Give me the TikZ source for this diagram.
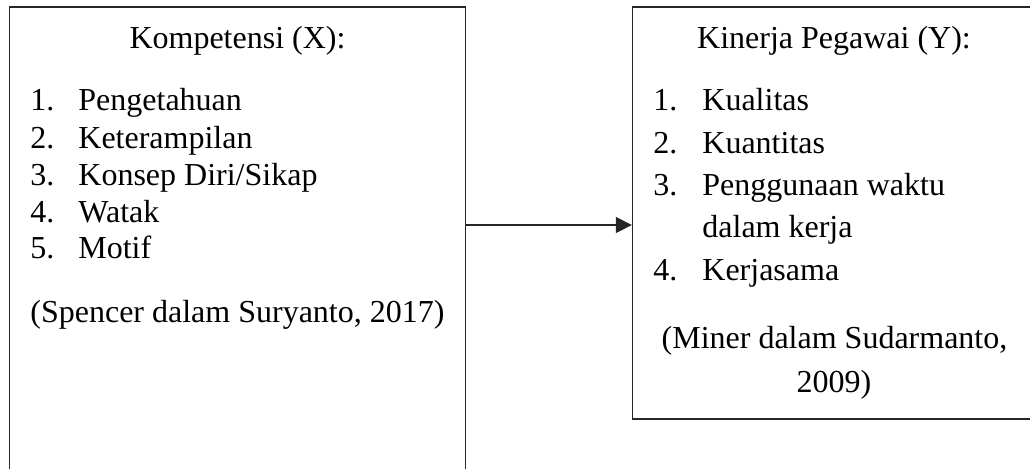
\documentclass[tikz,border=0pt]{standalone}
\usepackage{fontspec}
\setmainfont{Liberation Serif}
\usetikzlibrary{arrows.meta}
\begin{document}
\begin{tikzpicture}[x=0.5pt,y=-0.5pt,
  frame/.style={draw=black!85, line width=0.65pt, inner sep=0pt, fill=none},
  txt/.style={inner sep=0pt, font=\fontsize{16pt}{18pt}\selectfont},
  num/.style={txt, anchor=base west},
  item/.style={txt, anchor=base west},
  title/.style={txt, anchor=base},
  link/.style={draw=black!85, line width=0.65pt, -{Triangle[length=8pt,width=8pt]}}]
\useasboundingbox (0,0) rectangle (1030,468);
\clip (0,0) rectangle (1030,468);
\node[frame, minimum width=228pt, minimum height=246.5pt] (lbox) at (237.5,253.5) {};
\node[frame, minimum width=201.75pt, minimum height=206pt] (rbox) at (834.25,213) {};
% left box text
\node[title] (ltitle) at (237.5,48) {Kompetensi (X):};
\node[num] (ln1) at (30,110) {1.};
\node[item] (li1) at (78,110) {Pengetahuan};
\node[num] (ln2) at (30,148) {2.};
\node[item] (li2) at (78,148) {Keterampilan};
\node[num] (ln3) at (30,185) {3.};
\node[item] (li3) at (78,185) {Konsep Diri/Sikap};
\node[num] (ln4) at (30,222) {4.};
\node[item] (li4) at (78,222) {Watak};
\node[num] (ln5) at (30,258) {5.};
\node[item] (li5) at (78,258) {Motif};
\node[item] (lcite) at (30,322) {(Spencer dalam Suryanto, 2017)};
% right box text
\node[title] (rtitle) at (834,48) {Kinerja Pegawai (Y):};
\node[num] (rn1) at (653,110) {1.};
\node[item] (ri1) at (702,110) {Kualitas};
\node[num] (rn2) at (653,153) {2.};
\node[item] (ri2) at (702,153) {Kuantitas};
\node[num] (rn3) at (653,195) {3.};
\node[item] (ri3) at (702,195) {Penggunaan waktu};
\node[item] (ri3b) at (702,237) {dalam kerja};
\node[num] (rn4) at (653,280) {4.};
\node[item] (ri4) at (702,280) {Kerjasama};
\node[title] (rcite1) at (834.5,348) {(Miner dalam Sudarmanto,};
\node[title] (rcite2) at (834,392) {2009)};
% connector
\draw[link] (lbox.east |- 0,225) -- (rbox.west |- 0,225);
\end{tikzpicture}
\end{document}
